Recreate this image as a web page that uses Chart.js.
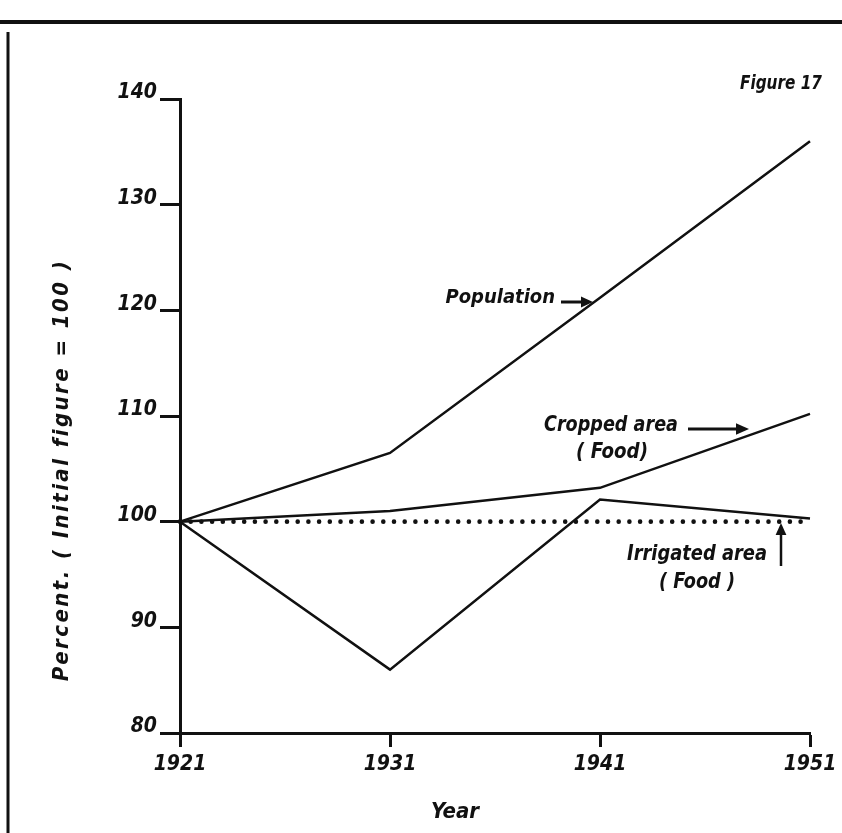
<!DOCTYPE html>
<html>
<head>
<meta charset="utf-8">
<title>Figure 17</title>
<script src="https://cdn.jsdelivr.net/npm/chart.js@4.4.1/dist/chart.umd.min.js"></script>
<style>
  html, body { margin: 0; padding: 0; background: #fff; }
  #wrap { width: 842px; height: 833px; }
</style>
</head>
<body>
<div id="wrap"><canvas id="c" width="842" height="833"></canvas></div>
<script>
// ---- data ----
const years = ['1921', '1931', '1941', '1951'];
const population = [100, 106.5, 121.2, 136];
const croppedFood = [100, 101, 103.2, 110.2];
const irrigatedFood = [100, 86, 102.1, 100.3];
const baseline = [100, 100, 100, 100];
const yTicks = [80, 90, 100, 110, 120, 130, 140];

const FAM = '"Liberation Sans Narrow", "DejaVu Sans Condensed", "Liberation Sans", sans-serif';
const INK = '#111';

function arrow(ctx, x1, y1, x2, y2, head) {
  const a = Math.atan2(y2 - y1, x2 - x1);
  ctx.beginPath();
  ctx.moveTo(x1, y1);
  ctx.lineTo(x2 - Math.cos(a) * head * 0.8, y2 - Math.sin(a) * head * 0.8);
  ctx.stroke();
  ctx.beginPath();
  ctx.moveTo(x2, y2);
  ctx.lineTo(x2 - head * Math.cos(a) + head * 0.45 * Math.sin(a), y2 - head * Math.sin(a) - head * 0.45 * Math.cos(a));
  ctx.lineTo(x2 - head * Math.cos(a) - head * 0.45 * Math.sin(a), y2 - head * Math.sin(a) + head * 0.45 * Math.cos(a));
  ctx.closePath();
  ctx.fill();
}

// draw text; optionally squeeze (maxW) or spread (targetW) horizontally
function text(ctx, str, x, y, size, align, opts) {
  opts = opts || {};
  ctx.save();
  ctx.font = 'italic bold ' + size + 'px ' + FAM;
  ctx.textAlign = align || 'left';
  ctx.textBaseline = 'middle';
  ctx.letterSpacing = '0px';
  const w = ctx.measureText(str).width;
  if (opts.targetW && w < opts.targetW && str.length > 1) {
    ctx.letterSpacing = ((opts.targetW - w) / (str.length - 1)).toFixed(2) + 'px';
  }
  ctx.translate(x, y);
  if (opts.maxW && w > opts.maxW) ctx.scale(opts.maxW / w, 1);
  ctx.fillText(str, 0, 0);
  ctx.restore();
}

const decor = {
  id: 'decor',
  afterDraw(chart) {
    const ctx = chart.ctx;
    ctx.save();
    ctx.fillStyle = INK;
    ctx.strokeStyle = INK;
    // page frame lines
    ctx.lineWidth = 4;
    ctx.beginPath(); ctx.moveTo(0, 22); ctx.lineTo(842, 22); ctx.stroke();
    ctx.lineWidth = 3;
    ctx.beginPath(); ctx.moveTo(8, 32); ctx.lineTo(8, 833); ctx.stroke();

    text(ctx, 'Figure 17', 822, 84, 20, 'right', { maxW: 82 });
    text(ctx, 'Population', 555, 298, 20, 'right', { maxW: 112 });
    ctx.lineWidth = 3;
    arrow(ctx, 561, 302, 593, 302, 12);

    text(ctx, 'Cropped area', 611, 426, 21, 'center', { maxW: 134 });
    text(ctx, '( Food)', 612, 453, 21, 'center', { maxW: 72 });
    arrow(ctx, 688, 429, 749, 429, 13);

    text(ctx, 'Irrigated area', 697, 555, 21, 'center', { maxW: 140 });
    text(ctx, '( Food )', 697, 583, 21, 'center', { maxW: 76 });
    ctx.lineWidth = 2.5;
    arrow(ctx, 781, 566, 781, 523, 12);

    text(ctx, 'Year', 455, 812, 22, 'center');

    ctx.translate(62, 470);
    ctx.rotate(-Math.PI / 2);
    text(ctx, 'Percent. ( Initial figure = 100 )', 0, 0, 22, 'center', { targetW: 420 });
    ctx.restore();
  }
};

const lineStyle = {
  borderColor: INK,
  borderWidth: 2.5,
  pointRadius: 0,
  tension: 0,
  fill: false
};

new Chart(document.getElementById('c'), {
  type: 'line',
  data: {
    labels: years,
    datasets: [
      Object.assign({ label: 'Population', data: population }, lineStyle),
      Object.assign({ label: 'Cropped area (Food)', data: croppedFood }, lineStyle),
      Object.assign({ label: 'Irrigated area (Food)', data: irrigatedFood }, lineStyle),
      Object.assign({}, lineStyle, {
        label: 'Initial figure = 100',
        data: baseline,
        borderWidth: 4.6,
        borderDash: [0, 10.7],
        borderCapStyle: 'round'
      })
    ]
  },
  options: {
    responsive: false,
    animation: false,
    events: [],
    layout: { padding: { top: 99, right: 32, left: 0, bottom: 0 } },
    plugins: { legend: { display: false }, title: { display: false }, tooltip: { enabled: false } },
    scales: {
      x: {
        type: 'category',
        offset: false,
        grid: { drawOnChartArea: false, drawTicks: true, tickLength: 14, tickWidth: 3, tickColor: INK },
        border: { display: true, color: INK, width: 3 },
        ticks: {
          color: INK, padding: 5, maxRotation: 0, autoSkip: false,
          font: { family: FAM, size: 21, style: 'italic', weight: 'bold' }
        },
        afterFit: (s) => { s.height = 100; }
      },
      y: {
        type: 'linear',
        min: yTicks[0],
        max: yTicks[yTicks.length - 1],
        afterBuildTicks: (s) => { s.ticks = yTicks.map(v => ({ value: v })); },
        grid: { drawOnChartArea: false, drawTicks: true, tickLength: 20, tickWidth: 3, tickColor: INK },
        border: { display: true, color: INK, width: 3 },
        ticks: {
          color: INK, padding: 3, labelOffset: -6,
          font: { family: FAM, size: 21, style: 'italic', weight: 'bold' },
          callback: (v) => String(v)
        },
        afterFit: (s) => { s.width = 180; }
      }
    }
  },
  plugins: [decor]
});
</script>
</body>
</html>
